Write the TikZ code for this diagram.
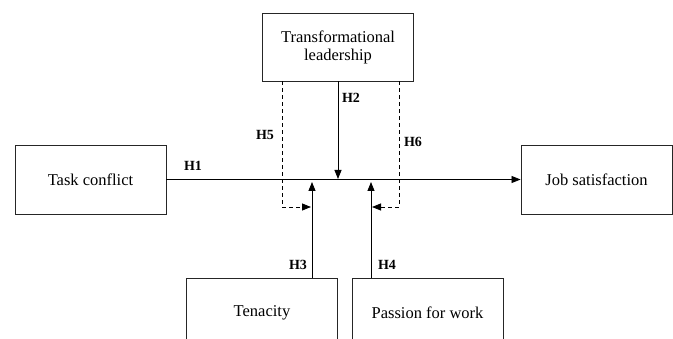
\documentclass[tikz,border=0pt]{standalone}
\usepackage{fontspec}
\setmainfont{Liberation Serif}
\usetikzlibrary{positioning,arrows.meta}

\begin{document}
\begin{tikzpicture}[x=1pt,y=-1pt]
	\tikzset{var/.style = {draw=black!85, line width=0.9pt, minimum width=151pt, minimum height=69pt, align=center, inner sep=2pt, font=\fontsize{16.5}{18}\selectfont}}
	\tikzset{hyp/.style = {font=\fontsize{14}{16}\selectfont\bfseries}}
	\tikzset{effect/.style = {-{Triangle[length=9pt,width=7pt]}, line width=0.8pt}}
	\tikzset{moder/.style = {effect, dash pattern=on 4pt off 3pt}}

	\useasboundingbox (0,0) rectangle (673,339);
	\clip (0,0) rectangle (673,339);

	% variables
	\node[var] (task) at (90.5,179.5) {Task conflict};
	\node[var] (job) at (596.5,179.5) {Job satisfaction};
	\node[var, minimum height=68pt] (lead) at (338,47) {Transformational\\leadership};
	\node[var] (ten) at (262,312.5) {Tenacity};
	\node[var] (pass) at (427.5,312.5) {Passion for work};

	% points on the main path
	\coordinate (h2end) at (338,179);
	\coordinate (h3end) at (312,182);
	\coordinate (h4end) at (371,182);
	\coordinate (h5c) at (282,207);
	\coordinate (h6c) at (399,207);

	% direct effects
	\draw[effect] (task) -- (job);
	\draw[effect] (lead.south -| h2end) -- (h2end);
	\draw[effect] (ten.north -| h3end) -- (h3end);
	\draw[effect] (pass.north -| h4end) -- (h4end);

	% moderated moderation
	\draw[moder] (lead.south -| h5c) |- ([xshift=-1pt]h3end |- h5c);
	\draw[moder] (lead.south -| h6c) |- ([xshift=1pt]h4end |- h6c);

	% hypotheses
	\node[hyp] (h1) at (193,166) {H1};
	\node[hyp] (h2) at (351,98) {H2};
	\node[hyp] (h3) at (298,265) {H3};
	\node[hyp] (h4) at (387,265) {H4};
	\node[hyp] (h5) at (265,135) {H5};
	\node[hyp] (h6) at (413,142) {H6};
\end{tikzpicture}
\end{document}
